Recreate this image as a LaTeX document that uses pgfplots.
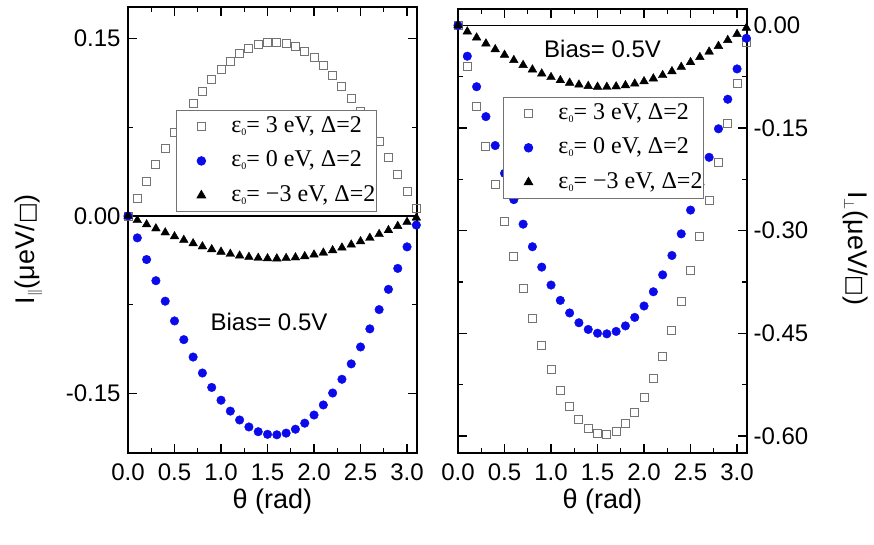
\documentclass[border=0pt]{standalone}
\usepackage{pgfplots}
\pgfplotsset{compat=1.18}
\usepackage{fontspec}
\setmainfont{Liberation Sans}
\newfontfamily\serif{Liberation Serif}
\newfontfamily\dejavu{DejaVu Sans}
\definecolor{sqgray}{RGB}{115,115,115}
\definecolor{myblue}{RGB}{10,10,235}
\newcommand{\eps}{ε\raisebox{-0.12em}{\fontsize{10}{10}\selectfont 0}}
\newcommand{\lblfont}{\fontsize{27}{31}\selectfont}
\newcommand{\sqbox}{{\dejavu\fontsize{22}{22}\selectfont □}}

\pgfplotsset{
  myimg/.style={legend image code/.code={\path[draw=none,fill=none] (0pt,-5pt) rectangle (40pt,5pt); \draw[##1] plot coordinates {(25pt,0pt)};}},
  sq/.style={only marks, mark=square, mark size=4pt, mark options={draw=sqgray, line width=0.9pt, fill=none}, myimg},
  ci/.style={only marks, mark=*, mark size=4.3pt, mark options={draw=myblue, fill=myblue}, myimg},
  tr/.style={only marks, mark=triangle*, mark size=5pt, mark options={draw=black, fill=black}, myimg},
  mystyle/.style={
    scale only axis, width=289pt,
    xmin=0, xmax=3.107,
    xtick={0,0.5,1.0,1.5,2.0,2.5,3.0},
    minor x tick num=1, minor y tick num=1,
    tick align=inside,
    major tick length=9pt, minor tick length=5pt,
    every tick/.style={black, line width=1.2pt},
    axis line style={line width=1.6pt},
    tick label style={font=\fontsize{24}{28}\selectfont},
    /pgf/number format/assume math mode=true,
    scaled ticks=false,
    x tick label style={/pgf/number format/fixed, /pgf/number format/fixed zerofill, /pgf/number format/precision=1, yshift=-7pt},
    y tick label style={/pgf/number format/fixed, /pgf/number format/fixed zerofill, /pgf/number format/precision=2},
    xlabel={θ (rad)},
    legend cell align=left,
    legend style={draw=black!55, line width=0.8pt, fill=white,
      font=\serif\fontsize{24}{28}\selectfont,
      inner xsep=0pt, inner ysep=4pt, row sep=10.5pt, column sep=14pt,
      nodes={inner sep=1pt, text height=17pt, text depth=5pt}},
  }
}

\begin{document}
\begin{tikzpicture}
\path[use as bounding box] (0pt,0pt) rectangle (874pt,-545pt);

% ---------- left panel ----------
\begin{axis}[mystyle, at={(128pt,-453pt)}, anchor=south west, height=446pt,
  ymin=-0.2003, ymax=0.1766,
  ytick={-0.15,0,0.15},
  y tick label style={xshift=-4pt},
  ylabel={I$_{\scriptscriptstyle\parallel}$({μ}eV/\sqbox)},
  every axis y label/.style={at={(axis description cs:-0.343,0.457)}, rotate=90, anchor=center, font=\lblfont},
  every axis x label/.style={at={(axis description cs:0.5,-0.109)}, anchor=center, font=\lblfont},
  legend style={at={(axis description cs:0.166,0.769)}, anchor=north west},
]
\addplot[black, line width=1.3pt, forget plot] coordinates {(0,0) (3.2,0)};
\addplot[sq] coordinates {
(0,0) (0.1,0.0147) (0.2,0.0292) (0.3,0.0434) (0.4,0.0572) (0.5,0.0705) (0.6,0.0830) (0.7,0.0947)
(0.8,0.1055) (0.9,0.1151) (1.0,0.1237) (1.1,0.1310) (1.2,0.1370) (1.3,0.1416) (1.4,0.1449) (1.5,0.1466)
(1.6,0.1469) (1.7,0.1458) (1.8,0.1431) (1.9,0.1391) (2.0,0.1337) (2.1,0.1269) (2.2,0.1188) (2.3,0.1096)
(2.4,0.0993) (2.5,0.0880) (2.6,0.0758) (2.7,0.0628) (2.8,0.0492) (2.9,0.0352) (3.0,0.0207) (3.1,0.0061)};
\addlegendentry{\eps= 3 eV, Δ=2}
\addplot[ci] coordinates {
(0,0) (0.1,-0.0185) (0.2,-0.0368) (0.3,-0.0547) (0.4,-0.0720) (0.5,-0.0887) (0.6,-0.1045) (0.7,-0.1192)
(0.8,-0.1327) (0.9,-0.1449) (1.0,-0.1557) (1.1,-0.1649) (1.2,-0.1724) (1.3,-0.1783) (1.4,-0.1823) (1.5,-0.1845)
(1.6,-0.1849) (1.7,-0.1835) (1.8,-0.1802) (1.9,-0.1751) (2.0,-0.1682) (2.1,-0.1597) (2.2,-0.1496) (2.3,-0.1380)
(2.4,-0.1250) (2.5,-0.1107) (2.6,-0.0954) (2.7,-0.0791) (2.8,-0.0620) (2.9,-0.0443) (3.0,-0.0261) (3.1,-0.0077)};
\addlegendentry{\eps= 0 eV, Δ=2}
\addplot[tr] coordinates {
(0,0) (0.1,-0.0036) (0.2,-0.0072) (0.3,-0.0106) (0.4,-0.0140) (0.5,-0.0173) (0.6,-0.0203) (0.7,-0.0232)
(0.8,-0.0258) (0.9,-0.0282) (1.0,-0.0303) (1.1,-0.0321) (1.2,-0.0336) (1.3,-0.0347) (1.4,-0.0355) (1.5,-0.0359)
(1.6,-0.0360) (1.7,-0.0357) (1.8,-0.0351) (1.9,-0.0341) (2.0,-0.0327) (2.1,-0.0311) (2.2,-0.0291) (2.3,-0.0268)
(2.4,-0.0243) (2.5,-0.0215) (2.6,-0.0186) (2.7,-0.0154) (2.8,-0.0121) (2.9,-0.0086) (3.0,-0.0051) (3.1,-0.0015)};
\addlegendentry{\eps= −3 eV, Δ=2}
\node[font=\fontsize{24}{28}\selectfont] at (axis cs:1.516,-0.0893) {Bias= 0.5V};
\end{axis}

% ---------- right panel ----------
\begin{axis}[mystyle, at={(458pt,-453pt)}, anchor=south west, height=444pt,
  ymin=-0.625, ymax=0.024,
  ytick={0,-0.15,-0.30,-0.45,-0.60},
  yticklabel pos=right,
  y tick label style={xshift=3pt},
  ylabel={I$_{\scriptscriptstyle\perp}$({μ}eV/\sqbox)},
  every axis y label/.style={at={(axis description cs:1.374,0.461)}, rotate=-90, anchor=center, font=\lblfont},
  every axis x label/.style={at={(axis description cs:0.5,-0.11)}, anchor=center, font=\lblfont},
  legend style={at={(axis description cs:0.156,0.802)}, anchor=north west},
]
\addplot[black, line width=1.3pt, forget plot] coordinates {(0,0) (3.2,0)};
\addplot[sq] coordinates {
(0,0) (0.1,-0.0597) (0.2,-0.1188) (0.3,-0.1767) (0.4,-0.2329) (0.5,-0.2867) (0.6,-0.3376) (0.7,-0.3852)
(0.8,-0.4290) (0.9,-0.4684) (1.0,-0.5032) (1.1,-0.5329) (1.2,-0.5573) (1.3,-0.5762) (1.4,-0.5893) (1.5,-0.5965)
(1.6,-0.5978) (1.7,-0.5930) (1.8,-0.5823) (1.9,-0.5659) (2.0,-0.5438) (2.1,-0.5162) (2.2,-0.4835) (2.3,-0.4459)
(2.4,-0.4039) (2.5,-0.3579) (2.6,-0.3083) (2.7,-0.2556) (2.8,-0.2003) (2.9,-0.1430) (3.0,-0.0844) (3.1,-0.0249)};
\addlegendentry{\eps= 3 eV, Δ=2}
\addplot[ci] coordinates {
(0,0) (0.1,-0.0450) (0.2,-0.0896) (0.3,-0.1333) (0.4,-0.1756) (0.5,-0.2162) (0.6,-0.2546) (0.7,-0.2905)
(0.8,-0.3235) (0.9,-0.3533) (1.0,-0.3795) (1.1,-0.4019) (1.2,-0.4203) (1.3,-0.4346) (1.4,-0.4444) (1.5,-0.4499)
(1.6,-0.4508) (1.7,-0.4473) (1.8,-0.4392) (1.9,-0.4268) (2.0,-0.4101) (2.1,-0.3893) (2.2,-0.3646) (2.3,-0.3363)
(2.4,-0.3047) (2.5,-0.2699) (2.6,-0.2325) (2.7,-0.1928) (2.8,-0.1511) (2.9,-0.1079) (3.0,-0.0636) (3.1,-0.0188)};
\addlegendentry{\eps= 0 eV, Δ=2}
\addplot[tr] coordinates {
(0,0) (0.1,-0.0090) (0.2,-0.0179) (0.3,-0.0266) (0.4,-0.0350) (0.5,-0.0431) (0.6,-0.0508) (0.7,-0.0580)
(0.8,-0.0646) (0.9,-0.0705) (1.0,-0.0757) (1.1,-0.0802) (1.2,-0.0839) (1.3,-0.0867) (1.4,-0.0887) (1.5,-0.0898)
(1.6,-0.0900) (1.7,-0.0893) (1.8,-0.0876) (1.9,-0.0852) (2.0,-0.0818) (2.1,-0.0777) (2.2,-0.0728) (2.3,-0.0671)
(2.4,-0.0608) (2.5,-0.0539) (2.6,-0.0464) (2.7,-0.0385) (2.8,-0.0302) (2.9,-0.0215) (3.0,-0.0127) (3.1,-0.0037)};
\addlegendentry{\eps= −3 eV, Δ=2}
\node[font=\fontsize{24}{28}\selectfont] at (axis cs:1.554,-0.0345) {Bias= 0.5V};
\end{axis}
\end{tikzpicture}
\end{document}
